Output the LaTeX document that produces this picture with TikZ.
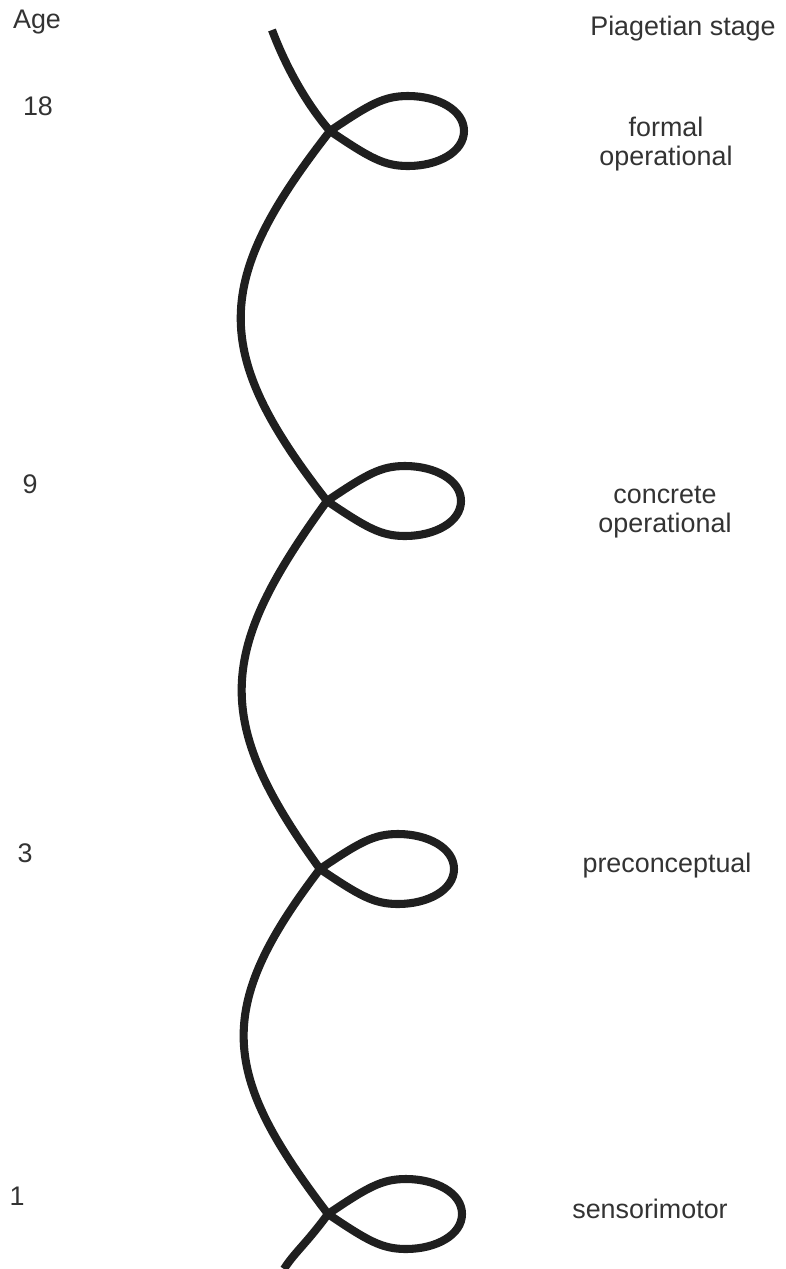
\documentclass[tikz,border=0pt]{standalone}
\usepackage{fontspec}
\setmainfont{Liberation Sans}
\begin{document}
\begin{tikzpicture}[
        x=0.02cm, y=-0.02cm,
        label/.style={anchor=base, text=black!80, font=\fontsize{15.3}{16.4}\selectfont},
        stage/.style={label, align=center},
        spiral/.style={line width=4.6pt, draw=black!88, line join=round},
        curl/.style={insert path={
            .. controls +(40,27) and +(-24,0) .. ++(78,35)
            .. controls +(30,0) and +(0,21) .. ++(56,-35)
            .. controls +(0,-21) and +(30,0) .. ++(-56,-35)
            .. controls +(-24,0) and +(40,-27) .. ++(-78,35)}}
    ]
    \useasboundingbox (0,0) rectangle (786,1269);

    % ==========================================
    % HEADINGS
    % ==========================================
    \node[label] (agetitle) at (37,28) {Age};
    \node[label] (stagetitle) at (683,35) {Piagetian stage};

    % ==========================================
    % AGES AND STAGES
    % ==========================================
    \node[label] (age18) at (38,115) {18};
    \node[label] (age9) at (30,493) {9};
    \node[label] (age3) at (25,862) {3};
    \node[label] (age1) at (17,1205) {1};

    % base of a two-line node is the last line
    \node[stage] (formal) at (666,165) {formal\\operational};
    \node[stage] (concrete) at (665,532) {concrete\\operational};
    \node[stage] (precon) at (667,872) {preconceptual};
    \node[stage] (sensori) at (650,1218) {sensorimotor};

    % ==========================================
    % SPIRAL (one curl per stage)
    % ==========================================
    \coordinate (c18) at (330,131);
    \coordinate (c9) at (327,501);
    \coordinate (c3) at (320,869);
    \coordinate (c1) at (328,1214);
    \coordinate (top) at (272,30);
    \coordinate (bottom) at (284,1269);

    \draw[spiral] (top) .. controls +(12,32) and +(-26,-30) .. (c18) [curl]
        .. controls +(-117,150) and +(-117,-150) .. (c9) [curl]
        .. controls +(-109,150) and +(-109,-150) .. (c3) [curl]
        .. controls +(-107,140) and +(-107,-140) .. (c1) [curl]
        .. controls +(-22,30) and +(10,-16) .. (bottom);

\end{tikzpicture}
\end{document}
